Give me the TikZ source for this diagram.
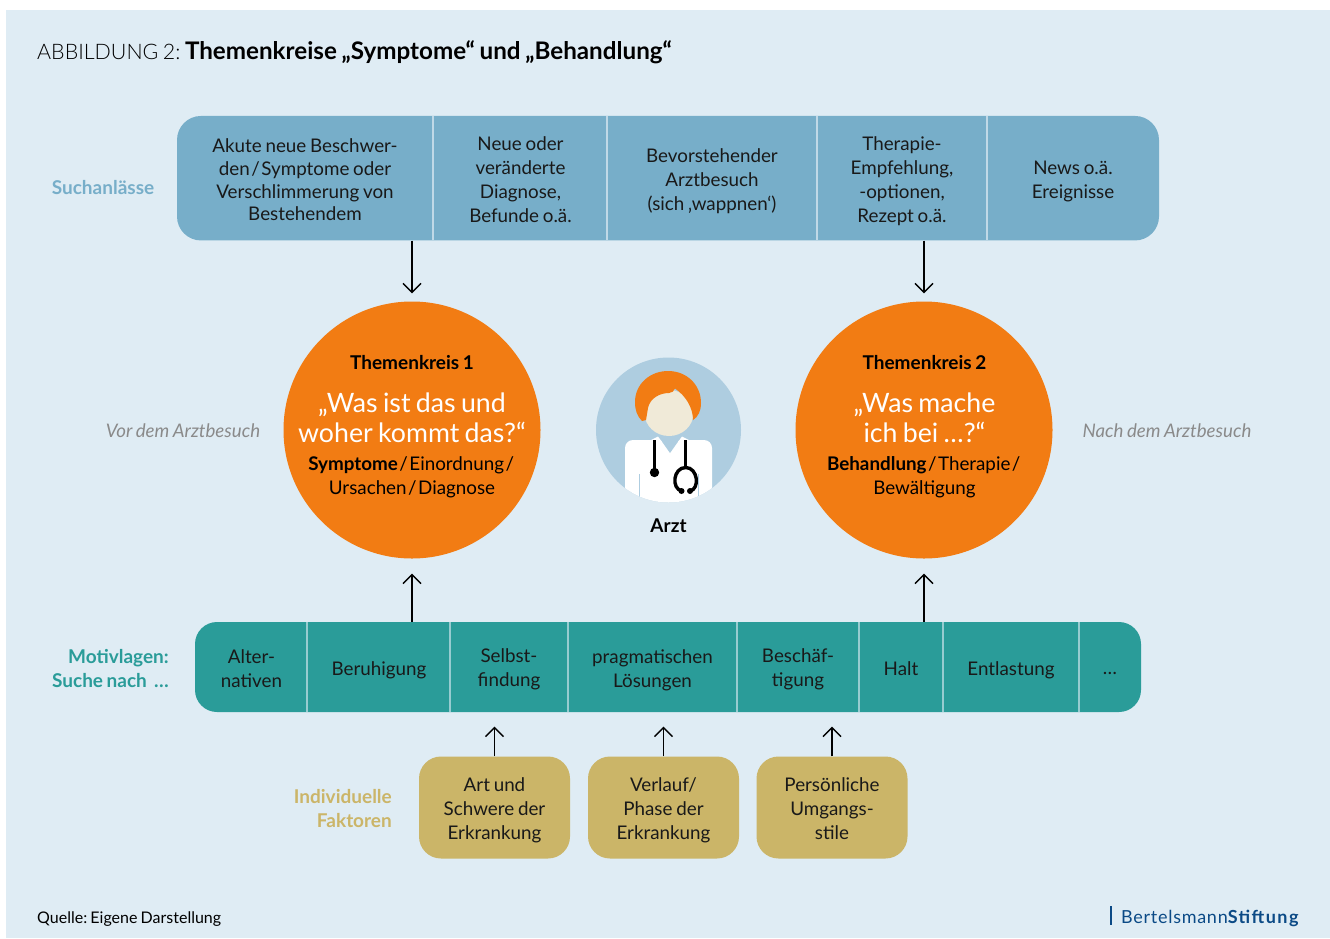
\documentclass[tikz,border=0pt]{standalone}
\usepackage{fontspec}
\setmainfont{Lato}[WordSpace=0.78]
\newfontfamily\latolight{Lato Light}[WordSpace=0.78]
\frenchspacing
\usetikzlibrary{arrows.meta,calc}
\definecolor{bgblue}{HTML}{DFECF4}
\definecolor{topbar}{HTML}{77AEC9}
\definecolor{teal}{HTML}{2A9C99}
\definecolor{sand}{HTML}{CBB568}
\definecolor{orng}{HTML}{F27C13}
\definecolor{docbg}{HTML}{AECDE0}
\definecolor{face}{HTML}{F0EAD8}
\definecolor{brand}{HTML}{0B4A86}
\definecolor{greytxt}{HTML}{8A8A8A}
\newcommand{\slashk}{\kern1.5pt/\kern1.5pt}
\tikzset{
  x=1pt,y=-1pt,
  cell/.style={align=center,font=\fontsize{18.8}{24}\selectfont,text=black!90,inner sep=0pt},
  sep/.style={draw=#1,line width=1.3pt},
  arr/.style={-{Straight Barb[length=9pt,width=18pt]},line width=1.4pt,black},
  sidelab/.style={align=right,font=\fontsize{19}{24}\selectfont\bfseries,inner sep=0pt},
  vor/.style={font=\fontsize{18.7}{24}\selectfont\itshape,text=greytxt,inner sep=0pt},
  kreis/.style={circle,fill=orng,minimum size=257pt,inner sep=0pt},
  ktitle/.style={font=\fontsize{19}{24}\selectfont\bfseries,text=black,inner sep=0pt},
  kquote/.style={align=center,font=\fontsize{26.7}{30}\selectfont,text=white,inner sep=0pt},
  ksub/.style={align=center,font=\fontsize{18.8}{24}\selectfont,text=black,inner sep=0pt},
  fbox/.style={fill=sand,rounded corners=22pt,minimum width=151pt,minimum height=102pt,inner sep=0pt},
}
\begin{document}
\begin{tikzpicture}
\useasboundingbox (0,0) rectangle (1330,938);
\fill[white] (0,0) rectangle (1330,938);
\fill[bgblue] (6,10) rectangle (1330,938);
% title
\node[anchor=base west,inner sep=0pt] (title) at (37,59)
  {{\fontsize{21.4}{26}\selectfont\latolight ABBILDUNG 2: }{\fontsize{24.2}{26}\selectfont\bfseries Themenkreise „Symptome“ und „Behandlung“}};
% top bar
\node[fill=topbar,rounded corners=24pt,minimum width=982pt,minimum height=124.5pt,inner sep=0pt] (such) at (668,178.2) {};
\foreach \x in {433,607,817,987} \draw[sep=bgblue!70!topbar] (\x,116) -- (\x,240);
\node[cell,font=\fontsize{18.8}{22.7}\selectfont] (s1) at (305,180) {Akute neue Beschwer-\\den\slashk Symptome oder\\Verschlimmerung von\\Bestehendem};
\node[cell] (s2) at (520.5,179.5) {Neue oder\\veränderte\\Diagnose,\\Befunde o.ä.};
\node[cell] (s3) at (712,181) {Bevorstehender\\Arztbesuch\\(sich ‚wappnen‘)};
\node[cell] (s4) at (902,181) {Therapie-\\Empfehlung,\\-optionen,\\Rezept o.ä.};
\node[cell] (s5) at (1073,181) {News o.ä.\\Ereignisse};
\node[sidelab,text=topbar] (lsuch) at (103,187.5) {Suchanlässe};
% circles
\node[kreis] (k1) at (412,430) {};
\node[kreis] (k2) at (924,430) {};
\node[ktitle] (k1t) at (412,363) {Themenkreis 1};
\node[kquote] (k1q) at (412,417.5) {„Was ist das und\\woher kommt das?“};
\node[ksub] (k1s) at (412,477.5) {\textbf{Symptome}\slashk Einordnung\slashk\\Ursachen\slashk Diagnose};
\node[ktitle] (k2t) at (924.5,363) {Themenkreis 2};
\node[kquote] (k2q) at (924.5,417.5) {„Was mache\\ich bei …?“};
\node[ksub] (k2s) at (924.5,477.5) {\textbf{Behandlung}\slashk Therapie\slashk\\Bewältigung};
\node[vor] (lvor) at (183,430.5) {Vor dem Arztbesuch};
\node[vor] (lnach) at (1167,430.5) {Nach dem Arztbesuch};
% doctor
\node[circle,fill=docbg,minimum size=145pt,inner sep=0pt] (doc) at (668.5,430) {};
\begin{scope}
\clip (668.5,430) circle (72.5);
\fill[white,rounded corners=8pt] (625,520) -- (625,440) -- (712,440) -- (712,520) -- cycle;
\fill[docbg] (658,436) -- (670,453) -- (682,436) -- cycle;
\fill[white] (650,440.5) -- (658,436.5) -- (662,442) -- cycle;
\fill[white] (690,440.5) -- (682,436.5) -- (678,442) -- cycle;
\draw[docbg,line width=1pt] (639,474) -- (639,510);
\draw[docbg,line width=1pt] (698,474) -- (698,510);
\end{scope}
\fill[face] (669,413) circle[x radius=24.5,y radius=23];
\fill[orng] (642,421) .. controls (637,416) and (635,410) .. (635,402)
  .. controls (635,384) and (650,371) .. (668,371)
  .. controls (687,371) and (701,385) .. (701,403)
  .. controls (701,411) and (698,417) .. (693,420)
  .. controls (693,408) and (686,396) .. (675,388.5)
  .. controls (674,391) and (672,393) .. (669,393)
  .. controls (660,393) and (650,398) .. (648,408)
  -- (646,420) -- cycle;
\draw[black,line width=3pt] (654.5,440) -- (654.5,470);
\fill[black] (654.5,472.5) circle (4.7);
\draw[black,line width=3pt] (685.7,440) -- (685.7,468);
\draw[black,line width=3.4pt] (682,491) .. controls (671,489) and (673,467.5) .. (685.7,467.5)
   .. controls (698,467.5) and (700,489) .. (690,491);
\fill[black] (681.5,491) circle (3);
\fill[black] (690,491) circle (3);
\node[ktitle] (arzt) at (668.5,526) {Arzt};
% motiv bar
\node[fill=teal,rounded corners=22pt,minimum width=946pt,minimum height=90pt,inner sep=0pt] (motiv) at (668,667) {};
\foreach \x in {307,450,568,737,859,943,1079} \draw[sep=bgblue!60!teal] (\x,622) -- (\x,712);
\node[cell] (m1) at (251.5,669) {Alter-\\nativen};
\node[cell] (m2) at (379,670) {Beruhigung};
\node[cell] (m3) at (509,669.5) {Selbst-\\findung};
\node[cell] (m4) at (652.5,670) {pragmatischen\\Lösungen};
\node[cell] (m5) at (798,669.5) {Beschäf-\\tigung};
\node[cell] (m6) at (901,669) {Halt};
\node[cell] (m7) at (1011,670) {Entlastung};
\node[cell] (m8) at (1110,673) {…};
\node[sidelab,text=teal,anchor=east] (lmotiv) at (169,668) {Motivlagen:\\Suche nach\ \ …};
% factor boxes
\node[fbox] (f1) at (494.5,807.5) {};
\node[fbox] (f2) at (663.5,807.5) {};
\node[fbox] (f3) at (832,807.5) {};
\node[cell] (f1t) at (494.5,810.5) {Art und\\Schwere der\\Erkrankung};
\node[cell] (f2t) at (663.5,810.5) {Verlauf/\\Phase der\\Erkrankung};
\node[cell] (f3t) at (832,809) {Persönliche\\Umgangs-\\stile};
\node[sidelab,text=sand,anchor=east] (lind) at (392,808.5) {Individuelle\\Faktoren};
% arrows
\draw[arr] (k1 |- such.south) -- ([yshift=8pt]k1.north);
\draw[arr] (k2 |- such.south) -- ([yshift=8pt]k2.north);
\draw[arr] (k1 |- motiv.north) -- ([yshift=-15pt]k1.south);
\draw[arr] (k2 |- motiv.north) -- ([yshift=-15pt]k2.south);
\draw[arr] (f1.north) -- ($(f1.north |- motiv.south)+(0,14.5)$);
\draw[arr] (f2.north) -- ($(f2.north |- motiv.south)+(0,14.5)$);
\draw[arr] (f3.north) -- ($(f3.north |- motiv.south)+(0,14.5)$);
% footer
\node[anchor=base west,inner sep=0pt,font=\fontsize{16}{20}\selectfont] (quelle) at (37,923) {Quelle: Eigene Darstellung};
\draw[brand,line width=2.6pt] (1111,906) -- (1111,925);
\node[anchor=base west,inner sep=0pt,text=brand,font=\fontsize{18}{22}\selectfont] (brandn) at (1121,923) {{\addfontfeature{LetterSpace=4}Bertelsmann}{\bfseries\addfontfeature{LetterSpace=8}Stiftung}};
\end{tikzpicture}
\end{document}
